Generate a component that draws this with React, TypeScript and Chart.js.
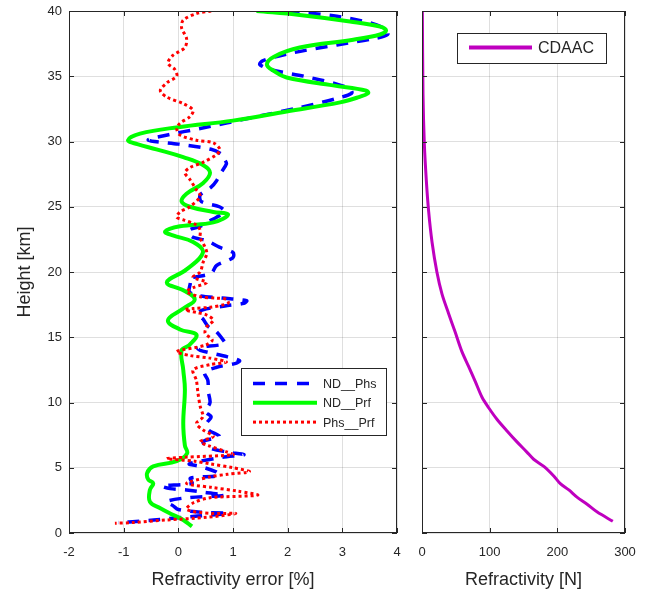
import React, { useEffect, useRef } from 'react';
import { Chart, registerables } from 'chart.js';

Chart.register(...registerables);

// ---------- data ----------
const errorTicks = [-2, -1, 0, 1, 2, 3, 4];
const heightTicks = [0, 5, 10, 15, 20, 25, 30, 35, 40];
const refrTicks = [0, 100, 200, 300];

// ND__Phs (blue dashed)
const ndPhsHeight = [40.0, 39.6, 39.1, 38.6, 38.2, 37.9, 37.4, 36.8, 36.2, 35.9, 35.5, 35.0, 34.4, 34.0, 33.7, 33.3, 32.6, 31.8, 31.0, 30.5, 30.1, 29.8, 29.4, 29.0, 28.6, 28.3, 27.6, 27.0, 26.5, 25.9, 25.4, 25.0, 24.6, 24.2, 23.8, 23.5, 23.2, 22.7, 22.4, 21.9, 21.5, 21.1, 20.5, 19.9, 19.5, 19.2, 18.5, 18.2, 18.0, 17.8, 17.6, 17.4, 17.1, 16.8, 16.4, 15.8, 15.5, 14.9, 14.5, 14.2, 14.0, 13.5, 13.2, 13.0, 12.7, 12.3, 11.7, 10.8, 10.0, 9.3, 8.9, 8.4, 7.9, 7.4, 7.0, 6.5, 6.2, 6.0, 5.8, 5.3, 5.1, 4.7, 4.4, 4.2, 3.8, 3.6, 3.4, 3.3, 3.1, 2.9, 2.7, 2.4, 2.1, 1.8, 1.6, 1.5, 1.3, 1.0, 0.85, 0.8];
const ndPhsError = [2.0, 2.9, 3.5, 3.8, 3.83, 3.6, 2.9, 2.1, 1.55, 1.49, 1.7, 2.3, 2.9, 3.15, 3.17, 2.9, 2.22, 1.31, 0.4, -0.2, -0.55, 0.0, 0.6, 0.8, 0.85, 0.88, 0.78, 0.7, 0.6, 0.4, 0.42, 0.75, 0.85, 0.7, 0.52, 0.4, 0.2, 0.25, 0.52, 0.75, 1.0, 1.0, 0.7, 0.6, 0.2, 0.22, 0.2, 0.35, 0.8, 1.25, 1.2, 0.85, 0.45, 0.35, 0.45, 0.55, 0.68, 0.8, 0.85, 0.35, 0.4, 0.9, 1.12, 1.05, 0.7, 0.48, 0.54, 0.55, 0.58, 0.5, 0.6, 0.52, 0.55, 0.75, 0.45, 0.58, 0.9, 1.2, 0.8, 0.2, 0.4, 0.68, 0.75, 0.22, 0.25, -0.3, -0.15, 0.15, 0.5, 0.85, 0.15, -0.22, -0.1, 0.0, 0.4, 0.9, 0.35, -0.45, -0.9, -1.1];

// ND__Prf (green solid)
const ndPrfHeight = [40.0, 39.7, 39.2, 38.8, 38.5, 38.2, 37.8, 37.2, 36.5, 35.9, 35.4, 34.9, 34.3, 33.9, 33.7, 33.4, 33.0, 32.3, 31.6, 31.1, 30.6, 30.1, 29.8, 29.4, 28.8, 28.2, 27.6, 26.8, 26.0, 25.4, 25.0, 24.6, 24.4, 23.8, 23.5, 23.1, 22.8, 22.3, 21.5, 20.2, 19.2, 18.6, 17.9, 17.2, 16.3, 15.6, 15.2, 14.4, 14.0, 12.5, 11.0, 8.4, 6.7, 6.1, 5.5, 5.1, 4.6, 4.1, 3.8, 3.3, 2.4, 1.9, 1.4, 1.0, 0.5];
const ndPrfError = [1.43, 2.22, 3.14, 3.69, 3.8, 3.69, 3.2, 2.22, 1.75, 1.62, 1.75, 1.98, 2.83, 3.44, 3.47, 3.3, 2.96, 1.98, 1.0, 0.0, -0.7, -0.92, -0.75, -0.4, 0.09, 0.45, 0.58, 0.45, 0.15, 0.06, 0.21, 0.64, 0.91, 0.64, 0.03, -0.24, -0.1, 0.27, 0.45, 0.15, -0.21, 0.09, 0.3, 0.09, -0.19, 0.03, 0.33, 0.2, 0.06, 0.09, 0.12, 0.09, 0.12, 0.16, -0.03, -0.46, -0.57, -0.55, -0.46, -0.52, -0.52, -0.33, -0.1, 0.09, 0.25];

// Phs__Prf (red dotted)
const phsPrfHeight = [40.0, 39.8, 39.3, 38.7, 37.9, 37.2, 36.6, 36.0, 35.5, 35.0, 34.5, 33.9, 33.4, 32.9, 32.4, 31.9, 31.4, 31.0, 30.5, 30.1, 29.9, 29.4, 29.0, 28.4, 28.0, 27.6, 27.1, 26.3, 25.8, 25.0, 24.6, 24.2, 24.0, 23.6, 23.2, 22.6, 21.9, 21.4, 20.7, 20.0, 19.6, 19.2, 18.8, 18.5, 18.1, 18.0, 17.9, 17.6, 17.3, 17.2, 17.1, 16.9, 16.7, 16.3, 15.8, 15.3, 14.8, 14.4, 13.9, 13.6, 13.4, 13.1, 12.9, 12.5, 11.7, 10.7, 9.7, 8.9, 8.4, 7.9, 7.4, 7.0, 6.7, 6.2, 6.0, 5.8, 5.7, 5.5, 5.3, 5.0, 4.7, 4.5, 4.3, 3.8, 3.5, 3.2, 2.9, 2.7, 2.3, 1.8, 1.5, 1.5, 1.2, 1.0, 0.8, 0.75];
const phsPrfError = [0.6, 0.33, 0.09, 0.06, 0.15, 0.12, -0.1, -0.19, -0.06, -0.03, -0.21, -0.33, -0.21, 0.09, 0.27, 0.21, 0.03, -0.03, 0.03, 0.33, 0.64, 0.76, 0.7, 0.45, 0.21, 0.12, 0.21, 0.33, 0.4, 0.21, 0.03, -0.03, 0.09, 0.33, 0.4, 0.4, 0.49, 0.52, 0.45, 0.4, 0.27, 0.52, 0.27, 0.15, 0.4, 0.7, 0.88, 0.91, 0.58, 0.27, 0.12, 0.33, 0.52, 0.64, 0.52, 0.49, 0.62, 0.5, -0.03, 0.21, 0.58, 0.88, 0.58, 0.27, 0.33, 0.36, 0.4, 0.45, 0.33, 0.45, 0.64, 0.4, 0.55, 0.9, 1.0, 0.1, -0.21, 0.3, 0.58, 1.0, 1.3, 0.9, 0.58, 0.15, 0.6, 1.1, 1.45, 0.58, 0.27, 0.15, 0.6, 1.05, 0.52, -0.21, -0.83, -1.16];

// CDAAC refractivity (magenta)
const cdaacHeight = [0.9, 1.6, 2.2, 2.75, 3.3, 3.8, 4.35, 5.1, 5.65, 6.2, 7.0, 7.8, 8.7, 9.6, 10.4, 11.6, 12.75, 13.9, 15.4, 16.8, 18.3, 20.0, 22.3, 24.6, 27.0, 29.9, 33.6, 40.0];
const cdaacN = [282, 259, 244, 229, 217, 204, 195, 180, 165, 155, 140, 126, 111, 98.5, 88.7, 78.8, 69, 59, 49, 39.4, 29.6, 22, 14.8, 9.9, 6.4, 3.4, 1.5, 0.5];

// ---------- styling ----------
const FONT = "'Liberation Sans', Arial, Helvetica, sans-serif";
const TEXT = '#262626';
const GRID = 'rgba(38,38,38,0.15)';
const BLUE = '#0000ff';
const GREEN = '#00ff00';
const RED = '#ff0000';
const MAGENTA = '#bf00bf';

const pts = (h: number[], v: number[]) => h.map((y, i) => ({ x: v[i], y }));

const boxPlugin = {
  id: 'matlabBox',
  afterDatasetsDraw(chart: any) {
    const { ctx, chartArea: a, scales } = chart;
    ctx.save();
    ctx.strokeStyle = TEXT;
    ctx.lineWidth = 1;
    ctx.setLineDash([]);
    ctx.strokeRect(a.left + 0.5, a.top + 0.5, a.right - a.left - 1, a.bottom - a.top - 1);
    const L = 5;
    ctx.beginPath();
    scales.x.ticks.forEach((t: any) => {
      const px = Math.round(scales.x.getPixelForValue(t.value)) + 0.5;
      ctx.moveTo(px, a.bottom);
      ctx.lineTo(px, a.bottom - L);
      ctx.moveTo(px, a.top);
      ctx.lineTo(px, a.top + L);
    });
    scales.y.ticks.forEach((t: any) => {
      const py = Math.round(scales.y.getPixelForValue(t.value)) + 0.5;
      ctx.moveTo(a.left, py);
      ctx.lineTo(a.left + L, py);
      ctx.moveTo(a.right, py);
      ctx.lineTo(a.right - L, py);
    });
    ctx.stroke();
    ctx.restore();
  },
};

type LegendItem = { label: string; color: string; dash: number[]; width: number };
const makeLegend = (
  id: string,
  items: LegendItem[],
  box: { x: number; y: number; w: number; h: number; first: number; step: number; x0: number; x1: number; tx: number; size: number }
) => ({
  id,
  afterDraw(chart: any) {
    const { ctx } = chart;
    ctx.save();
    ctx.fillStyle = '#ffffff';
    ctx.fillRect(box.x, box.y, box.w, box.h);
    ctx.strokeStyle = TEXT;
    ctx.lineWidth = 1;
    ctx.setLineDash([]);
    ctx.strokeRect(box.x + 0.5, box.y + 0.5, box.w, box.h);
    items.forEach((it, i) => {
      const cy = box.y + box.first + i * box.step;
      ctx.beginPath();
      ctx.strokeStyle = it.color;
      ctx.lineWidth = it.width;
      ctx.setLineDash(it.dash);
      ctx.moveTo(box.x0, cy);
      ctx.lineTo(box.x1, cy);
      ctx.stroke();
      ctx.setLineDash([]);
      ctx.fillStyle = TEXT;
      ctx.font = `${box.size}px ${FONT}`;
      ctx.textBaseline = 'middle';
      ctx.textAlign = 'left';
      ctx.fillText(it.label, box.tx, cy + 1);
    });
    ctx.restore();
  },
});

const tickFont = { family: FONT, size: 13 };
const titleFont = { family: FONT, size: 18 };

function lineDs(label: string, data: any[], color: string, width: number, dash: number[], tension: number) {
  return {
    label,
    data,
    showLine: true,
    borderColor: color,
    backgroundColor: color,
    borderWidth: width,
    borderDash: dash,
    pointRadius: 0,
    pointHoverRadius: 0,
    tension,
    borderCapStyle: 'butt',
    borderJoinStyle: 'round',
  };
}

const noPadX = (h: number) => (s: any) => { s.height = h; s.paddingLeft = 0; s.paddingRight = 0; };
const noPadY = (w: number) => (s: any) => { s.width = w; s.paddingTop = 0; s.paddingBottom = 0; };

export default function App() {
  const leftRef = useRef<HTMLCanvasElement | null>(null);
  const rightRef = useRef<HTMLCanvasElement | null>(null);

  useEffect(() => {
    if (!leftRef.current || !rightRef.current) return;

    const left = new Chart(leftRef.current, {
      type: 'scatter',
      data: {
        datasets: [
          lineDs('Phs__Prf', pts(phsPrfHeight, phsPrfError), RED, 3, [3, 3], 0.3),
          lineDs('ND__Prf', pts(ndPrfHeight, ndPrfError), GREEN, 4, [], 0.4),
          lineDs('ND__Phs', pts(ndPhsHeight, ndPhsError), BLUE, 3.5, [12, 9], 0.3),
        ] as any,
      },
      options: {
        responsive: false,
        animation: false,
        layout: { padding: { top: 11, right: 8, left: 0, bottom: 0 } },
        plugins: { legend: { display: false }, tooltip: { enabled: false } },
        scales: {
          x: {
            type: 'linear',
            min: -2,
            max: 4,
            afterBuildTicks: (s: any) => { s.ticks = errorTicks.map((v) => ({ value: v })); },
            afterFit: noPadX(60),
            ticks: { font: tickFont, color: TEXT, padding: 12, maxRotation: 0 },
            grid: { color: GRID, drawTicks: false },
            border: { display: false },
            title: { display: true, text: 'Refractivity error [%]', font: titleFont, color: TEXT, padding: { top: 0, bottom: 2 } },
          },
          y: {
            type: 'linear',
            min: 0,
            max: 40,
            afterBuildTicks: (s: any) => { s.ticks = heightTicks.map((v) => ({ value: v })); },
            afterFit: noPadY(69),
            ticks: { font: tickFont, color: TEXT, padding: 7 },
            grid: { color: GRID, drawTicks: false },
            border: { display: false },
            title: { display: true, text: 'Height [km]', font: titleFont, color: TEXT, padding: { top: 14, bottom: 0 } },
          },
        },
      } as any,
      plugins: [
        boxPlugin,
        makeLegend('legendLeft', [
          { label: 'ND__Phs', color: BLUE, dash: [12, 10], width: 3.5 },
          { label: 'ND__Prf', color: GREEN, dash: [], width: 4 },
          { label: 'Phs__Prf', color: RED, dash: [3, 3], width: 3 },
        ], { x: 241, y: 368, w: 145, h: 67, first: 15.5, step: 19.3, x0: 253, x1: 317, tx: 323, size: 12.5 }),
      ] as any,
    });

    const right = new Chart(rightRef.current, {
      type: 'scatter',
      data: {
        datasets: [lineDs('CDAAC', pts(cdaacHeight, cdaacN), MAGENTA, 3, [], 0.3)] as any,
      },
      options: {
        responsive: false,
        animation: false,
        layout: { padding: { top: 11, right: 26, left: 0, bottom: 0 } },
        plugins: { legend: { display: false }, tooltip: { enabled: false } },
        scales: {
          x: {
            type: 'linear',
            min: 0,
            max: 300,
            afterBuildTicks: (s: any) => { s.ticks = refrTicks.map((v) => ({ value: v })); },
            afterFit: noPadX(60),
            ticks: { font: tickFont, color: TEXT, padding: 12, maxRotation: 0 },
            grid: { color: GRID, drawTicks: false },
            border: { display: false },
            title: { display: true, text: 'Refractivity [N]', font: titleFont, color: TEXT, padding: { top: 0, bottom: 2 } },
          },
          y: {
            type: 'linear',
            min: 0,
            max: 40,
            afterBuildTicks: (s: any) => { s.ticks = heightTicks.map((v) => ({ value: v })); },
            afterFit: noPadY(17),
            ticks: { display: false },
            grid: { color: GRID, drawTicks: false },
            border: { display: false },
          },
        },
      } as any,
      plugins: [
        boxPlugin,
        makeLegend('legendRight', [
          { label: 'CDAAC', color: MAGENTA, dash: [], width: 4 },
        ], { x: 52, y: 33, w: 149, h: 30, first: 14.5, step: 0, x0: 64, x1: 127, tx: 133, size: 16 }),
      ] as any,
    });

    return () => {
      left.destroy();
      right.destroy();
    };
  }, []);

  return (
    <div style={{ position: 'absolute', left: 0, top: 0, width: 651, height: 593, background: '#ffffff', overflow: 'hidden' }}>
      <canvas ref={leftRef} width={405} height={593} style={{ position: 'absolute', left: 0, top: 0, width: 405, height: 593 }} />
      <canvas ref={rightRef} width={246} height={593} style={{ position: 'absolute', left: 405, top: 0, width: 246, height: 593 }} />
    </div>
  );
}
